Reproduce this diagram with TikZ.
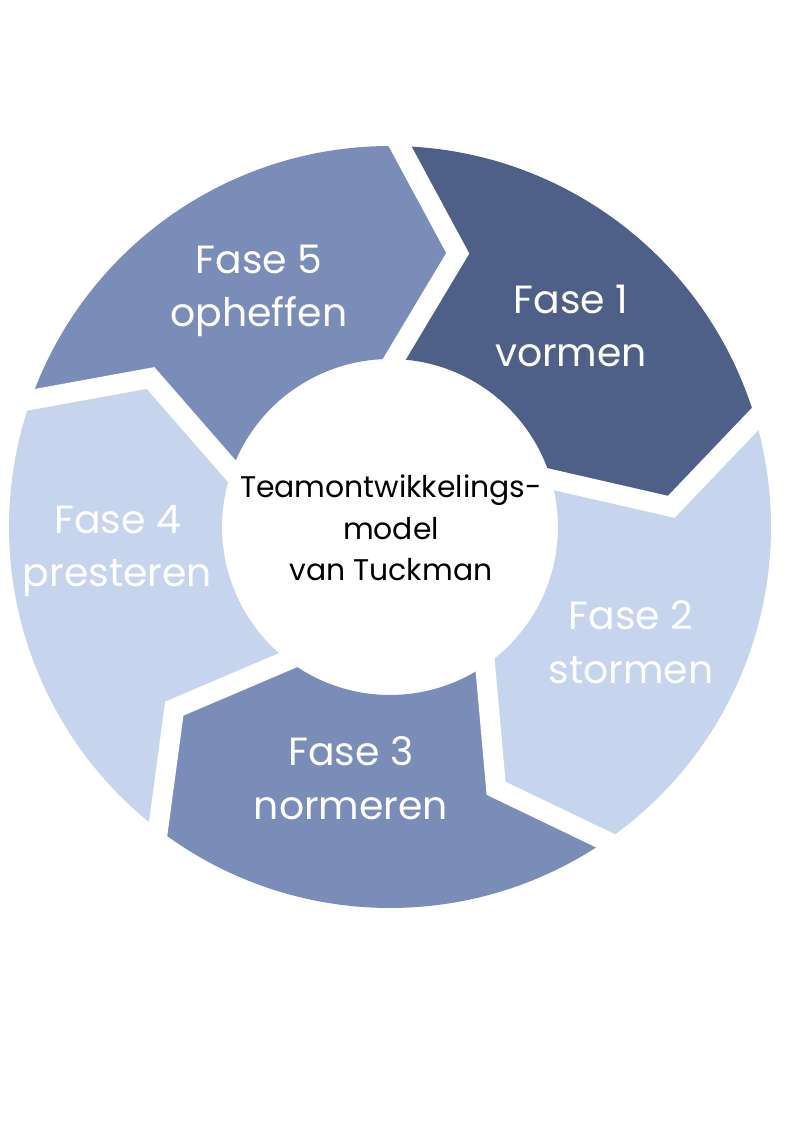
\documentclass[tikz,border=0pt]{standalone}
\usepackage{fontspec}
\setmainfont{Poppins}
\definecolor{darkblue}{HTML}{4F6088}
\definecolor{midblue}{HTML}{7A8DB8}
\definecolor{lightblue}{HTML}{C6D4EE}
\newcommand{\drawseg}[2]{%
  \fill[#2] (#1:381) arc[start angle=#1, end angle=#1-72, radius=381]
    -- ({#1-72-12.4}:282) -- ({#1-72}:168)
    arc[start angle=#1-72, end angle=#1, radius=168]
    -- ({#1-12.4}:282) -- cycle;}
\begin{document}
\begin{tikzpicture}[x=0.75pt,y=0.75pt,
  gap/.style={draw=white, line width=15pt, line join=miter, shorten <=-10pt, shorten >=-10pt},
  phaselabel/.style={text=white, align=center, anchor=base, font=\fontsize{29.5}{40}\selectfont},
  centertext/.style={text=black, align=center, anchor=base, font=\fontsize{22.4}{31.2}\selectfont}]
\fill[white] (-390,-604) rectangle (410,527);
\useasboundingbox (-390,-604) rectangle (410,527);
\drawseg{88.5}{darkblue}
\drawseg{16.5}{lightblue}
\drawseg{-55.5}{midblue}
\drawseg{-127.5}{lightblue}
\drawseg{-199.5}{midblue}
\foreach \t in {88.5,16.5,-55.5,-127.5,-199.5}
  \draw[gap] (\t:381) -- ({\t-12.4}:282) -- (\t:168);
\node[phaselabel] (f1) at (181,160.3) {Fase 1\\vormen};
\node[phaselabel] (f2) at (241,-156.3) {Fase 2\\stormen};
\node[phaselabel] (f3) at (-39,-292.3) {Fase 3\\normeren};
\node[phaselabel] (f4) at (-272.5,-59.7) {Fase 4\\presteren};
\node[phaselabel] (f5) at (-131,200.3) {Fase 5\\opheffen};
\node[centertext] (model) at (1,-54) {Teamontwikkelings-\\model\\van Tuckman};
\end{tikzpicture}
\end{document}
